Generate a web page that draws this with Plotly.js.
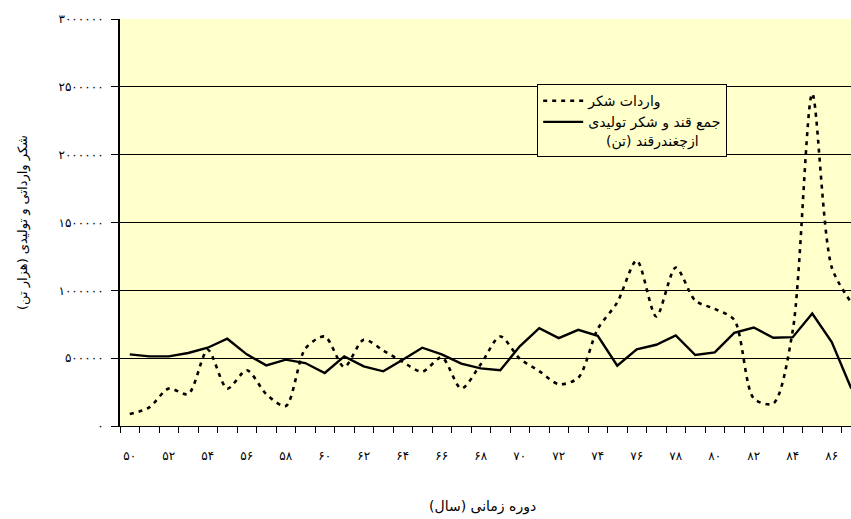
<!DOCTYPE html>
<html>
<head>
<meta charset="utf-8">
<script src="https://cdn.plot.ly/plotly-3.0.1.min.js"></script>
<style>
html,body{margin:0;padding:0;overflow:hidden;background:#fff;}
#chart{width:870px;height:519px;}
</style>
</head>
<body>
<div id="chart"></div>
<script>
const years = [50,51,52,53,54,55,56,57,58,59,60,61,62,63,64,65,66,67,68,69,70,71,72,73,74,75,76,77,78,79,80,81,82,83,84,85,86,87];
const imports = [88000,137000,276000,235000,562000,276000,411000,235000,147000,570000,660000,435000,636000,557000,472000,400000,506000,276000,455000,660000,496000,405000,308000,355000,716000,911000,1220000,807000,1168000,924000,863000,782000,203000,166000,704000,2450000,1170000,911000];
const production = [528000,513000,513000,538000,577000,643000,528000,447000,489000,464000,391000,513000,440000,403000,489000,577000,528000,460000,425000,411000,587000,721000,648000,709000,665000,445000,565000,599000,667000,523000,543000,687000,726000,650000,655000,829000,618000,276000];
const xTickVals = [50,52,54,56,58,60,62,64,66,68,70,72,74,76,78,80,82,84,86];
const xTickText = ['۵۰','۵۲','۵۴','۵۶','۵۸','۶۰','۶۲','۶۴','۶۶','۶۸','۷۰','۷۲','۷۴','۷۶','۷۸','۸۰','۸۲','۸۴','۸۶'];
const yTickVals = [0,500000,1000000,1500000,2000000,2500000,3000000];
const yTickText = ['۰','۵۰۰۰۰۰','۱۰۰۰۰۰۰','۱۵۰۰۰۰۰','۲۰۰۰۰۰۰','۲۵۰۰۰۰۰','۳۰۰۰۰۰۰'];
const nameImports = 'واردات شکر';
const nameProduction1 = 'جمع قند و شکر تولیدی';
const nameProduction2 = 'ازچغندرقند (تن)';
const xTitle = 'دوره زمانی (سال)';
const yTitle = 'شکر وارداتی و تولیدی (هزار تن)';

const RLM = '\u200F';
const rtl = s => RLM + s + RLM;
const boundaries = years.map(y => y - 0.5).concat([years[years.length-1] + 0.5]);

const FONT = 'DejaVu Sans, Tahoma, sans-serif';

const traces = [
  {x: years, y: imports, type: 'scatter', mode: 'lines', name: rtl(nameImports),
   line: {color: '#000', width: 2.6, dash: '4px,5px', shape: 'spline', smoothing: 0.8}},
  {x: years, y: production, type: 'scatter', mode: 'lines',
   name: rtl(nameProduction1) + '<br>' + '\u00a0\u00a0\u00a0\u00a0' + rtl(nameProduction2),
   line: {color: '#000', width: 2.4}}
];

const layout = {
  width: 870, height: 519,
  margin: {l: 120, r: 9, t: 19, b: 93},
  paper_bgcolor: '#ffffff',
  plot_bgcolor: '#FFFFCC',
  font: {family: FONT, size: 11, color: '#000'},
  showlegend: true,
  legend: {x: 0.563, y: 0.84, xanchor: 'left', yanchor: 'top',
    bgcolor: '#FFFFCC', bordercolor: '#000', borderwidth: 1, itemwidth: 40,
    font: {family: FONT, size: 14, color: '#000'}, valign: 'top', tracegroupgap: 0},
  xaxis: {
    range: [49.5, 87.5], tickmode: 'array', tickvals: xTickVals, ticktext: xTickText,
    ticks: '', showgrid: false, zeroline: false, showline: true, linecolor: '#000', linewidth: 1,
    ticklabelstandoff: 19, tickfont: {family: FONT, size: 12, color: '#000'},
    minor: {tickmode: 'array', tickvals: boundaries, ticks: 'outside', ticklen: 6, tickcolor: '#000', tickwidth: 1, showgrid: false}
  },
  yaxis: {
    range: [0, 3000000], tickmode: 'array', tickvals: yTickVals, ticktext: yTickText,
    ticks: 'outside', ticklen: 7, tickcolor: '#000', tickwidth: 1,
    showgrid: true, gridcolor: '#000', gridwidth: 1, zeroline: false,
    showline: true, linecolor: '#000', linewidth: 2,
    ticklabelstandoff: 5, tickfont: {family: FONT, size: 12, color: '#000'},
    title: {text: rtl(yTitle), font: {family: FONT, size: 13, color: '#000'}, standoff: 28}
  },
  annotations: [
    {text: rtl(xTitle), xref: 'paper', yref: 'paper', x: (482-120)/741, y: (426-507)/407,
     xanchor: 'center', yanchor: 'middle', showarrow: false,
     font: {family: FONT, size: 14, color: '#000'}}
  ]
};

Plotly.newPlot('chart', traces, layout, {displayModeBar: false, responsive: false});
</script>
</body>
</html>
